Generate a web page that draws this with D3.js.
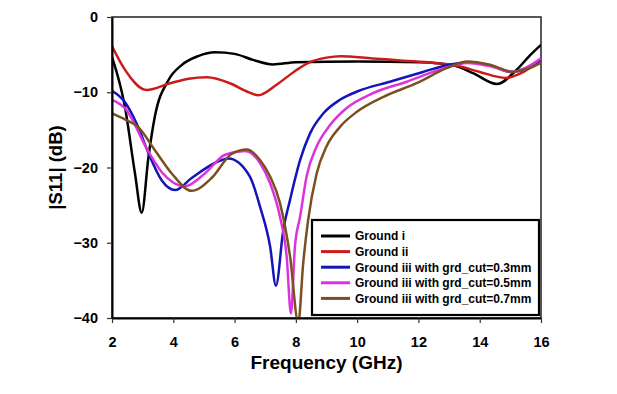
<!DOCTYPE html>
<html>
<head>
<meta charset="utf-8">
<script src="https://cdn.jsdelivr.net/npm/d3@7"></script>
<style>
  body { margin: 0; background: #fff; }
  text { font-family: "Liberation Sans", Arial, sans-serif; font-weight: bold; }
</style>
</head>
<body>
<div id="container"></div>
<script>
/* CONSTANTS AND GLOBALS */
const width = 617,
  height = 394,
  margin = {top: 17, bottom: 76, left: 112, right: 76};

/* DATA */
const seriesNames = [
  "Ground i",
  "Ground ii",
  "Ground iii with grd_cut=0.3mm",
  "Ground iii with grd_cut=0.5mm",
  "Ground iii with grd_cut=0.7mm"
];
const seriesColors = ["#000000", "#cc1a1a", "#1414bb", "#dd33dd", "#7b5020"];

const xTicks = [2, 4, 6, 8, 10, 12, 14, 16];
const yTicks = [0, -10, -20, -30, -40];

// Ground i
const freqI = [2, 2.42, 2.75, 2.97, 3.19, 3.4, 3.84, 4.27, 4.81, 5.36, 6.0, 6.6, 7.25, 8.0, 10, 12.05, 13.14, 13.8, 14.56, 15.21, 15.64, 16];
const s11I = [-5.3, -11.9, -20.8, -26, -18.6, -13.2, -8.4, -6.4, -5.2, -4.7, -4.9, -5.7, -6.3, -6.0, -5.9, -6.0, -6.4, -7.5, -8.9, -7.0, -5.1, -3.7];

// Ground ii
const freqII = [2, 2.42, 3.13, 3.9, 4.5, 5.1, 5.85, 6.4, 6.77, 7.37, 8.0, 8.46, 9.0, 9.45, 10.5, 11.5, 12.5, 13.2, 14.0, 14.85, 15.33, 16];
const s11II = [-3.9, -7.0, -9.7, -8.8, -8.2, -8.0, -8.8, -9.9, -10.4, -9.0, -7.1, -6.0, -5.4, -5.2, -5.5, -5.8, -6.1, -6.4, -7.3, -8.1, -7.5, -5.7];

// Ground iii, grd_cut = 0.3 mm
const freq03 = [2, 2.42, 2.85, 3.19, 3.62, 4.06, 4.6, 5.36, 5.8, 6.5, 6.83, 7.16, 7.35, 7.59, 7.81, 8.14, 8.46, 8.9, 9.44, 10.0, 11.07, 12.15, 12.92, 13.7, 14.4, 15.0, 16];
const s1103 = [-9.8, -11.3, -14.6, -18.1, -21.7, -23.0, -21.4, -19.4, -18.8, -21.2, -25.2, -30.5, -35.7, -28.3, -24.3, -19.0, -15.5, -12.8, -11.0, -9.9, -8.6, -7.3, -6.4, -6.0, -6.5, -7.3, -5.7];

// Ground iii, grd_cut = 0.5 mm
const freq05 = [2, 2.42, 3.19, 3.62, 4.38, 5.03, 5.69, 6.34, 6.83, 7.16, 7.48, 7.7, 7.84, 7.97, 8.14, 8.35, 8.68, 9.11, 9.66, 10.53, 11.62, 12.7, 13.6, 14.4, 15.05, 16];
const s1105 = [-11.0, -12.1, -17.9, -20.6, -22.5, -20.8, -18.3, -17.8, -19.4, -22.1, -26.5, -31.8, -39.4, -30.5, -26.5, -21.2, -17.2, -14.4, -12.1, -10.1, -8.6, -7.0, -6.1, -6.6, -7.3, -5.5];

// Ground iii, grd_cut = 0.7 mm
const freq07 = [2, 2.42, 2.85, 3.4, 3.95, 4.6, 5.25, 5.9, 6.4, 6.83, 7.16, 7.48, 7.81, 8.08, 8.24, 8.4, 8.68, 9.0, 9.44, 9.99, 10.86, 11.94, 12.92, 13.6, 14.3, 15.1, 16];
const s1107 = [-12.8, -13.6, -14.6, -17.7, -20.8, -23.1, -21.4, -18.2, -17.6, -19.0, -21.2, -24.7, -31.8, -40.6, -32.7, -27.0, -20.8, -17.2, -14.6, -12.6, -10.6, -8.8, -6.8, -5.9, -6.3, -7.3, -6.1];

const seriesFreq = [freqI, freqII, freq03, freq05, freq07];
const seriesS11 = [s11I, s11II, s1103, s1105, s1107];

/* SVG */
const svg = d3.select("#container")
  .append("svg")
  .attr("width", width)
  .attr("height", height);

const xScale = d3.scaleLinear()
  .domain([2, 16])
  .range([margin.left, width - margin.right]);

const yScale = d3.scaleLinear()
  .domain([-40, 0])
  .range([height - margin.bottom, margin.top]);

svg.append("clipPath")
  .attr("id", "plotClip")
  .append("rect")
  .attr("x", margin.left)
  .attr("y", margin.top)
  .attr("width", width - margin.left - margin.right)
  .attr("height", height - margin.top - margin.bottom);

// frame (top + right)
svg.append("rect")
  .attr("x", margin.left)
  .attr("y", margin.top)
  .attr("width", width - margin.left - margin.right)
  .attr("height", height - margin.top - margin.bottom)
  .attr("fill", "none")
  .attr("stroke", "#222")
  .attr("stroke-width", 1.5);

// LINES
const lineGen = d3.line()
  .x(d => xScale(d[0]))
  .y(d => yScale(d[1]))
  .curve(d3.curveMonotoneX);

svg.append("g")
  .attr("clip-path", "url(#plotClip)")
  .selectAll(".line")
  .data(seriesNames.map((name, i) => seriesFreq[i].map((f, j) => [f, seriesS11[i][j]])))
  .join("path")
  .attr("class", "line")
  .attr("fill", "none")
  .attr("stroke", (d, i) => seriesColors[i])
  .attr("stroke-width", 2.5)
  .attr("d", d => lineGen(d));

// AXES
const xAxis = d3.axisBottom(xScale)
  .tickValues(xTicks)
  .tickSize(5)
  .tickPadding(14)
  .tickSizeOuter(0);

const yAxis = d3.axisLeft(yScale)
  .tickValues(yTicks)
  .tickSize(5)
  .tickPadding(9)
  .tickSizeOuter(0);

const xAxisGroup = svg.append("g")
  .attr("transform", `translate(0,${height - margin.bottom})`)
  .call(xAxis);

const yAxisGroup = svg.append("g")
  .attr("transform", `translate(${margin.left},0)`)
  .call(yAxis);

[xAxisGroup, yAxisGroup].forEach(g => {
  g.select(".domain").attr("stroke", "#000").attr("stroke-width", 2);
  g.selectAll(".tick line").attr("stroke", "#333").attr("stroke-width", 1.2);
  g.selectAll(".tick text")
    .attr("fill", "#000")
    .style("font-size", "14.5px")
    .style("font-family", "'Liberation Sans', Arial, sans-serif")
    .style("font-weight", "bold");
});

// AXIS TITLES
svg.append("text")
  .attr("x", (margin.left + width - margin.right) / 2)
  .attr("y", 369)
  .attr("text-anchor", "middle")
  .style("font-size", "19px")
  .text("Frequency (GHz)");

svg.append("text")
  .attr("transform", `translate(62,${(margin.top + height - margin.bottom) / 2}) rotate(-90)`)
  .attr("text-anchor", "middle")
  .style("font-size", "18.5px")
  .text("|S11| (dB)");

// LEGEND
const legend = svg.append("g");

legend.append("rect")
  .attr("x", 312)
  .attr("y", 220)
  .attr("width", 227)
  .attr("height", 95)
  .attr("fill", "#fff")
  .attr("stroke", "#000")
  .attr("stroke-width", 2.2);

const legendItems = legend.selectAll(".item")
  .data(seriesNames)
  .join("g")
  .attr("class", "item")
  .attr("transform", (d, i) => `translate(0,${236 + i * 15.6})`);

legendItems.append("line")
  .attr("x1", 321)
  .attr("x2", 350)
  .attr("stroke", (d, i) => seriesColors[i])
  .attr("stroke-width", 3);

legendItems.append("text")
  .attr("x", 355)
  .attr("dy", "0.36em")
  .style("font-size", "12px")
  .text(d => d);
</script>
</body>
</html>
